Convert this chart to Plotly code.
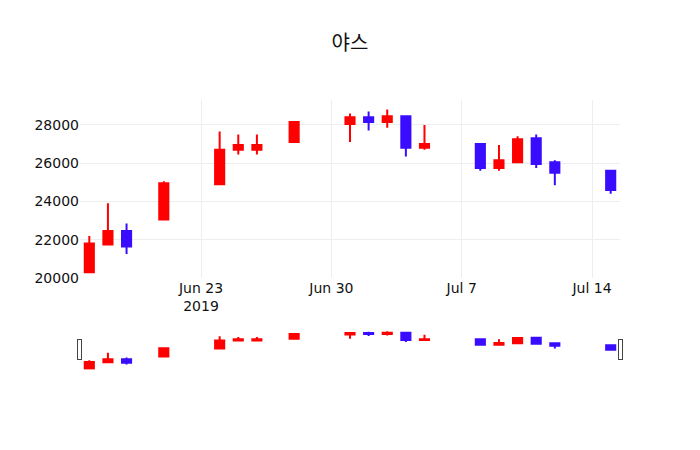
import plotly.graph_objects as go

dates = ['2019-06-17', '2019-06-18', '2019-06-19', '2019-06-21', '2019-06-24',
         '2019-06-25', '2019-06-26', '2019-06-28', '2019-07-01', '2019-07-02',
         '2019-07-03', '2019-07-04', '2019-07-05', '2019-07-08', '2019-07-09',
         '2019-07-10', '2019-07-11', '2019-07-12', '2019-07-15']
opens = [20300, 21750, 22450, 23050, 24900, 26700, 26700, 27100, 28050, 28400,
         28150, 28450, 26800, 27000, 25750, 26050, 27300, 26050, 25600]
highs = [22200, 23900, 22850, 25050, 27650, 27500, 27500, 28200, 28600, 28700,
         28800, 28450, 28000, 27000, 26950, 27400, 27500, 26150, 25650]
lows = [20300, 21750, 21250, 23050, 24900, 26450, 26450, 27050, 27100, 27700,
        27850, 26350, 26700, 25600, 25600, 26050, 25750, 24850, 24400]
closes = [21800, 22450, 21650, 24950, 26700, 26950, 26950, 28150, 28400, 28150,
          28450, 26800, 27000, 25750, 26150, 27250, 25950, 25500, 24600]

RED = '#ff0000'
BLUE = '#3a0cff'

fig = go.Figure(go.Candlestick(
    x=dates, open=opens, high=highs, low=lows, close=closes,
    increasing=dict(line=dict(color=RED), fillcolor=RED),
    decreasing=dict(line=dict(color=BLUE), fillcolor=BLUE),
))

fig.update_layout(
    template='none',
    width=700, height=450,
    margin=dict(l=80, r=80, t=100, b=80),
    title=dict(text='야스', x=0.5, xanchor='center',
               font=dict(family='Noto Sans CJK KR', size=20, color='#111')),
    font=dict(family='DejaVu Sans', size=14, color='#111'),
    showlegend=False,
    xaxis=dict(rangeslider=dict(visible=True), gridcolor='#eee'),
    yaxis=dict(range=[20000, 29300], dtick=2000, tickformat='d', gridcolor='#eee'),
)

# page body has an 8px margin by default; drop it so the chart sits at 0,0
fig.write_html('out.html', config={'displayModeBar': False},
               post_script="document.body.style.margin='0';")
